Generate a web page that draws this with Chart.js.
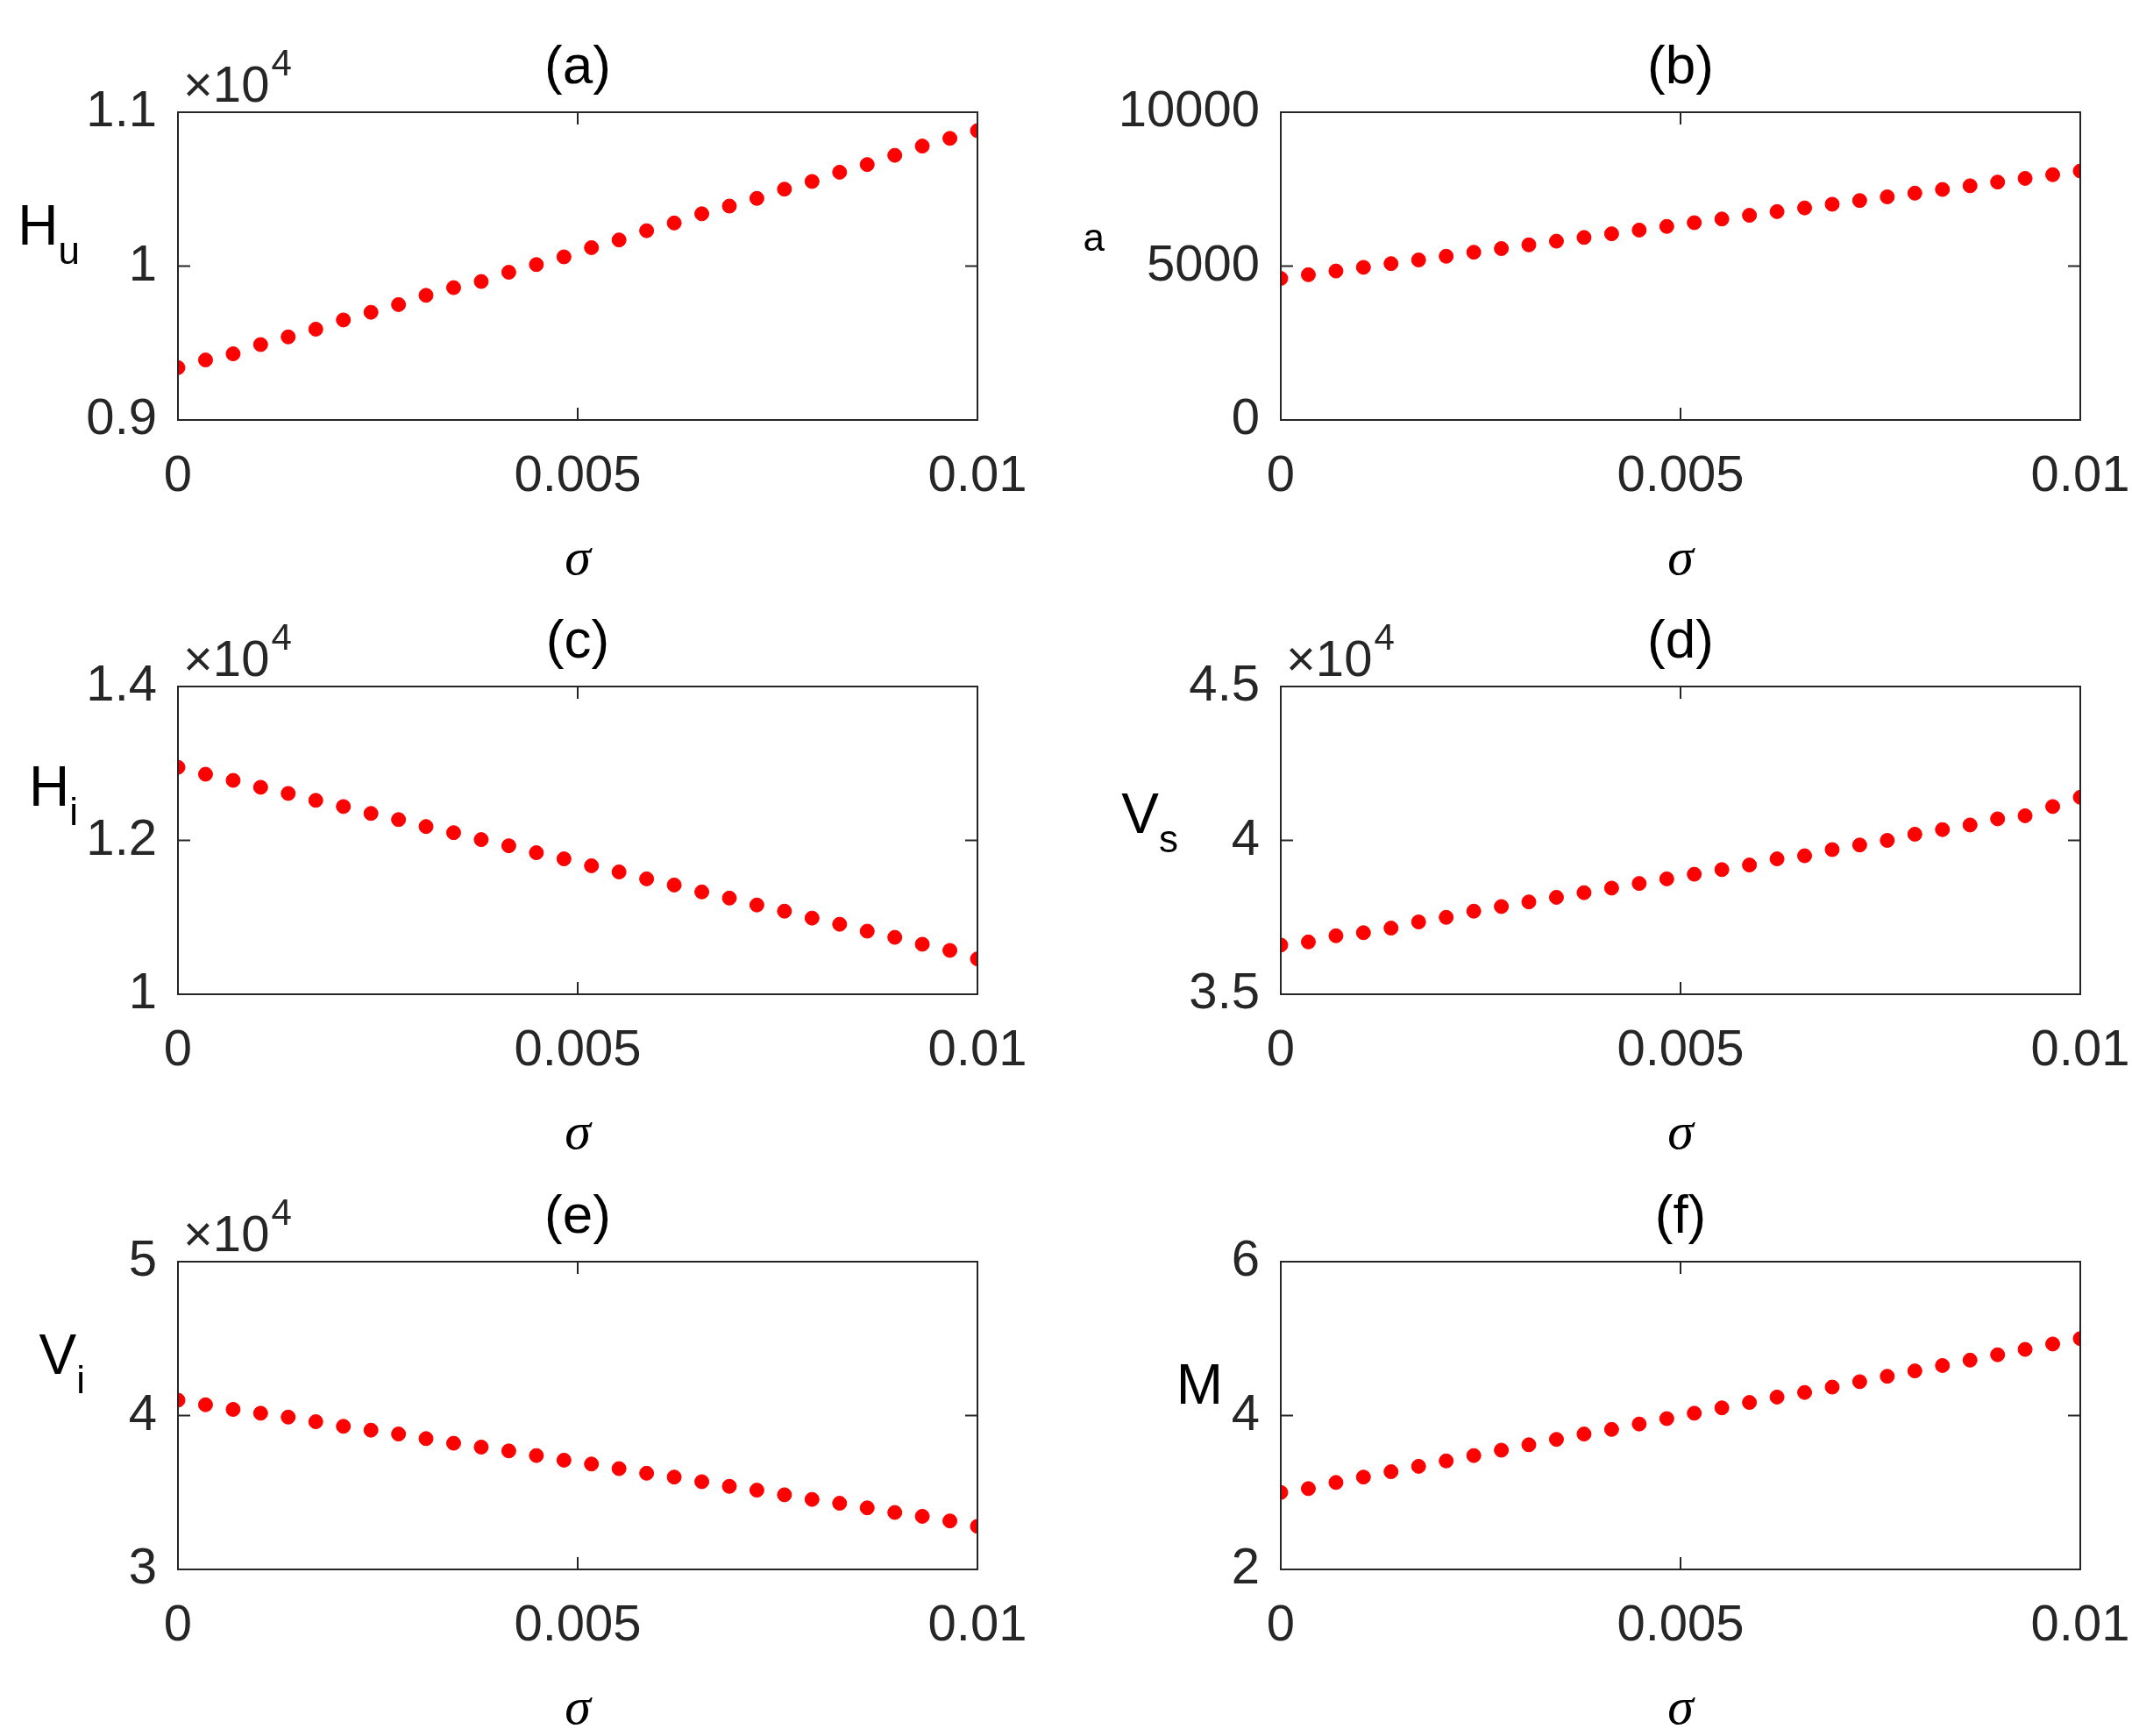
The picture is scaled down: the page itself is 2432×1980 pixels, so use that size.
<!DOCTYPE html>
<html>
<head>
<meta charset="utf-8">
<script src="https://cdn.jsdelivr.net/npm/chart.js@4/dist/chart.umd.min.js"></script>
<style>
  body { margin: 0; background: #fff; width: 2432px; height: 1980px; position: relative; overflow: hidden; }
  canvas { position: absolute; }
</style>
</head>
<body>
<script>
// sigma values (30 samples from 0 to 0.01)
const sigma = [0, 0.000345, 0.00069, 0.001034, 0.001379, 0.001724, 0.002069, 0.002414, 0.002759, 0.003103,
  0.003448, 0.003793, 0.004138, 0.004483, 0.004828, 0.005172, 0.005517, 0.005862, 0.006207, 0.006552,
  0.006897, 0.007241, 0.007586, 0.007931, 0.008276, 0.008621, 0.008966, 0.00931, 0.009655, 0.01];

const Hu = [9340, 9390, 9430, 9490, 9540, 9590, 9650, 9700, 9750, 9810, 9860, 9900, 9960, 10010, 10060,
  10120, 10170, 10230, 10280, 10340, 10390, 10440, 10500, 10550, 10610, 10660, 10720, 10780, 10830, 10880];
const Ha = [4600, 4720, 4840, 4960, 5080, 5200, 5320, 5450, 5570, 5690, 5810, 5930, 6050, 6170, 6290,
  6410, 6530, 6650, 6770, 6890, 7010, 7130, 7250, 7370, 7490, 7610, 7730, 7850, 7970, 8090];
const Hi = [12950, 12860, 12780, 12690, 12610, 12520, 12440, 12350, 12270, 12180, 12100, 12010, 11930, 11840, 11760,
  11670, 11590, 11500, 11420, 11330, 11250, 11160, 11080, 10990, 10910, 10820, 10740, 10650, 10570, 10460];
const Vs = [36600, 36700, 36900, 37000, 37150, 37350, 37500, 37700, 37850, 38000, 38150, 38300, 38450, 38600, 38750,
  38900, 39050, 39200, 39400, 39500, 39700, 39850, 40000, 40200, 40350, 40500, 40700, 40800, 41100, 41400];
const Vi = [41000, 40700, 40400, 40150, 39900, 39600, 39300, 39050, 38800, 38500, 38200, 37950, 37700, 37400, 37100,
  36850, 36550, 36250, 36000, 35700, 35400, 35150, 34850, 34550, 34300, 34000, 33700, 33450, 33150, 32800];
const M = [3.0, 3.05, 3.13, 3.2, 3.27, 3.34, 3.41, 3.48, 3.55, 3.62, 3.69, 3.76, 3.82, 3.89, 3.96,
  4.03, 4.1, 4.17, 4.24, 4.3, 4.37, 4.44, 4.51, 4.58, 4.65, 4.72, 4.79, 4.86, 4.93, 5.0];

const xTicks = [0, 0.005, 0.01];
const xTickLabels = ['0', '0.005', '0.01'];

const panels = [
  { title: '(a)', data: Hu, lab: 'H', sub: 'u', min: 9000, max: 11000, step: 1000, exp: true, left: 203, top: 128, lx: 112, ly: -47 },
  { title: '(b)', data: Ha, lab: 'H', sub: 'a', min: 0, max: 10000, step: 5000, exp: false, left: 1461, top: 128, lx: 201, ly: -62 },
  { title: '(c)', data: Hi, lab: 'H', sub: 'i', min: 10000, max: 14000, step: 2000, exp: true, left: 203, top: 783, lx: 114, ly: -62 },
  { title: '(d)', data: Vs, lab: 'V', sub: 's', min: 35000, max: 45000, step: 5000, exp: true, left: 1461, top: 783, lx: 117, ly: -31 },
  { title: '(e)', data: Vi, lab: 'V', sub: 'i', min: 30000, max: 50000, step: 10000, exp: true, left: 203, top: 1439, lx: 106, ly: -70 },
  { title: '(f)', data: M, lab: 'M', sub: '', min: 2, max: 6, step: 2, exp: false, left: 1461, top: 1439, lx: 66, ly: -36 }
];

const plotW = 912, plotH = 351;
const padL = 230, padT = 130, padR = 90, padB = 220;
const FONT = 'Liberation Sans, Arial, sans-serif';

const boxPlugin = {
  id: 'boxPlugin',
  afterDraw(chart) {
    const p = chart.options.plugins.boxPlugin;
    const a = chart.chartArea, ctx = chart.ctx;
    const xs = chart.scales.x, ys = chart.scales.y;
    ctx.save();
    ctx.strokeStyle = '#262626';
    ctx.lineWidth = 2;
    ctx.strokeRect(a.left, a.top, a.right - a.left, a.bottom - a.top);
    // inner ticks
    const tl = 14;
    ctx.beginPath();
    xTicks.forEach(v => {
      const x = xs.getPixelForValue(v);
      ctx.moveTo(x, a.bottom); ctx.lineTo(x, a.bottom - tl);
      ctx.moveTo(x, a.top); ctx.lineTo(x, a.top + tl);
    });
    for (let v = p.min; v <= p.max + 1e-9; v += p.step) {
      const y = ys.getPixelForValue(v);
      ctx.moveTo(a.left, y); ctx.lineTo(a.left + tl, y);
      ctx.moveTo(a.right, y); ctx.lineTo(a.right - tl, y);
    }
    ctx.stroke();
    ctx.fillStyle = '#000';
    // title
    ctx.font = '62px ' + FONT;
    ctx.textAlign = 'center';
    ctx.textBaseline = 'middle';
    ctx.fillText(p.title, (a.left + a.right) / 2, a.top - 50);
    // exponent
    ctx.fillStyle = '#262626';
    if (p.exp) {
      ctx.textAlign = 'left';
      ctx.textBaseline = 'alphabetic';
      ctx.font = '58px ' + FONT;
      ctx.fillText('\u00d710', a.left + 6, a.top - 12);
      const w = ctx.measureText('\u00d710').width;
      ctx.font = '42px ' + FONT;
      ctx.fillText('4', a.left + 8 + w, a.top - 42);
    }
    // sigma label
    ctx.fillStyle = '#000';
    ctx.font = 'italic 60px "Liberation Serif", serif';
    ctx.textAlign = 'center';
    ctx.textBaseline = 'middle';
    ctx.fillText('\u03c3', (a.left + a.right) / 2, a.bottom + 160);
    // y label
    const yc = (a.top + a.bottom) / 2 + p.ly;
    ctx.font = '44px ' + FONT;
    const sw = p.sub ? ctx.measureText(p.sub).width : 0;
    ctx.textAlign = 'left';
    ctx.textBaseline = 'alphabetic';
    if (p.sub) ctx.fillText(p.sub, a.left - p.lx - sw, yc + 44);
    ctx.font = '64px ' + FONT;
    ctx.textAlign = 'right';
    ctx.fillText(p.lab, a.left - p.lx - sw, yc + 22);
    ctx.restore();
  }
};

panels.forEach(p => {
  const cv = document.createElement('canvas');
  const w = padL + plotW + padR, h = padT + plotH + padB;
  cv.width = w; cv.height = h;
  cv.style.left = (p.left - padL) + 'px';
  cv.style.top = (p.top - padT) + 'px';
  cv.style.width = w + 'px'; cv.style.height = h + 'px';
  document.body.appendChild(cv);
  const div = p.exp ? 10000 : 1;
  new Chart(cv, {
    type: 'scatter',
    data: { datasets: [{ data: sigma.map((s, i) => ({ x: s, y: p.data[i] })), backgroundColor: '#ff0000', borderColor: '#ff0000', pointRadius: 8, borderWidth: 1, pointStyle: 'circle' }] },
    options: {
      responsive: false, animation: false, devicePixelRatio: 1,
      layout: { padding: { top: padT, right: padR, left: 0, bottom: 0 } },
      plugins: { legend: { display: false }, tooltip: { enabled: false }, boxPlugin: p },
      scales: {
        x: {
          type: 'linear', min: 0, max: 0.01,
          afterBuildTicks: s => { s.ticks = xTicks.map(v => ({ value: v })); },
          afterFit: s => { s.height = padB; },
          grid: { display: false }, border: { display: false },
          ticks: { color: '#262626', font: { family: FONT, size: 58 }, padding: 22, maxRotation: 0,
            callback: (v, i) => xTickLabels[i] }
        },
        y: {
          min: p.min, max: p.max,
          afterFit: s => { s.width = padL; },
          grid: { display: false }, border: { display: false },
          ticks: { stepSize: p.step, color: '#262626', font: { family: FONT, size: 58 }, padding: 16,
            callback: v => String(Math.round(v / div * 100) / 100) }
        }
      }
    },
    plugins: [boxPlugin]
  });
});
</script>
</body>
</html>
